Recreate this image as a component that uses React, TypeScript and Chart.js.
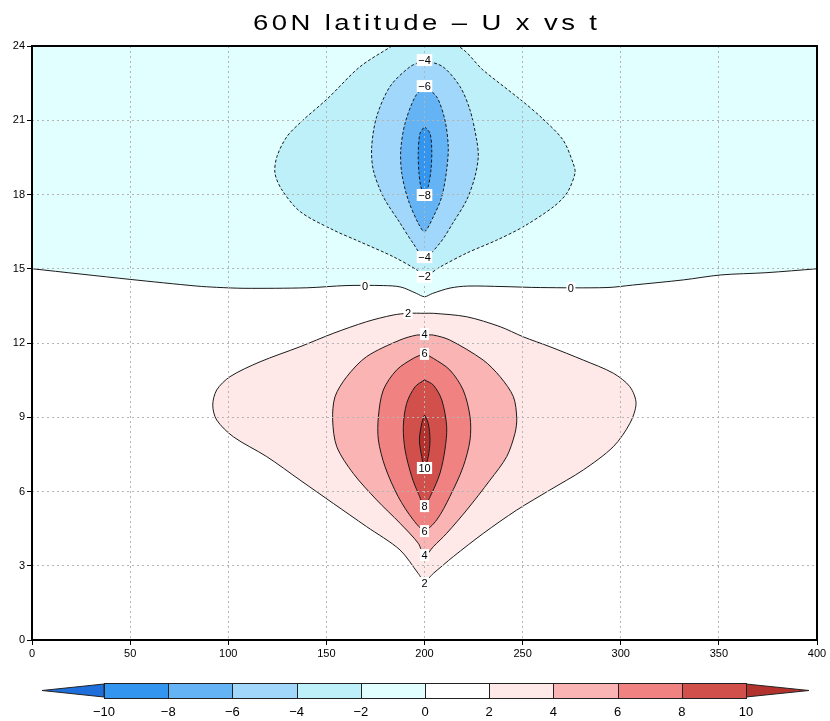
import React, { useEffect, useRef } from "react";
import { Chart, registerables } from "chart.js";

Chart.register(...registerables);

const FONT = '"Liberation Sans", "DejaVu Sans", sans-serif';

const titleText = "60N latitude – U x vs t";
const xTickValues = [0, 50, 100, 150, 200, 250, 300, 350, 400];
const yTickValues = [0, 3, 6, 9, 12, 15, 18, 21, 24];
const levels = [-10, -8, -6, -4, -2, 0, 2, 4, 6, 8, 10];
const shadeColors = [
  "#1e6edc", "#3296f0", "#64b4f5", "#a0d7fa", "#bef0fa", "#e1ffff",
  "#ffffff", "#ffe8e8", "#fab4b4", "#f08282", "#d2504b", "#b4322d",
];

// contour lines: [x, t]
const zeroLine = [
  [0, 15.0], [50, 14.57], [84, 14.3], [94, 14.25], [108, 14.21], [140, 14.23],
  [160, 14.32], [179, 14.32], [188, 14.26], [196, 14.0], [200, 13.87], [204, 14.0],
  [213, 14.22], [222, 14.3], [240, 14.28], [259, 14.24], [293, 14.24], [306, 14.34],
  [332, 14.55], [351, 14.75], [374, 14.84], [400, 15.0],
];
// closure of the region above the zero line, outside the plotted window
const zeroRegionTop = [[430, 15.2], [430, 27], [-30, 27], [-30, 15.2]];

const contourNeg2 = [
  [183.4, 24], [167.1, 23.16], [150.8, 21.89], [137.6, 20.97], [129.9, 20.34],
  [124.8, 19.53], [123.8, 18.86], [127.4, 18.18], [136.6, 17.31], [153.4, 16.57],
  [167.1, 16.09], [184.0, 15.49], [196.2, 14.95], [200, 14.7], [207.9, 15.07],
  [221.7, 15.64], [236.9, 16.16], [250.2, 16.69], [265.5, 17.49], [272.6, 18.06],
  [276.7, 18.87], [275.7, 19.27], [270.6, 20.2], [260.4, 21.05], [250.2, 21.75],
  [229.8, 23.03], [216.4, 24],
];
const contourNeg4 = [
  [200, 23.43], [209.4, 23.16], [218.1, 22.36], [223.2, 21.41], [226.6, 20.2],
  [227.4, 19.53], [225.7, 18.72], [221.5, 17.78], [214.5, 16.85], [207.9, 16.04],
  [200, 15.47], [194.1, 16.04], [187.5, 16.85], [179.0, 17.91], [173.9, 18.99],
  [173.1, 19.93], [175.6, 21.14], [182.4, 22.36], [192.6, 23.16],
];
const contourNeg6 = [
  [200, 22.38], [206.2, 21.95], [210.4, 21.01], [212.1, 19.93], [211.3, 19.0],
  [208.8, 17.91], [204.5, 17.1], [200, 16.5], [196.8, 16.84], [191.7, 17.78],
  [188.4, 18.86], [187.9, 19.8], [190.1, 20.88], [195.2, 21.95],
];
const contourNeg8 = [
  [200, 20.74], [202.8, 20.47], [203.7, 19.8], [203.3, 18.99], [201.8, 18.3],
  [200, 18.05], [198.2, 18.3], [197.2, 18.86], [196.8, 19.66], [197.7, 20.47],
];
const contourPos2 = [
  [200, 13.2], [204.5, 13.2], [221.5, 13.06], [238.5, 12.66], [250.3, 12.25],
  [263.9, 11.85], [280.9, 11.31], [296.2, 10.78], [304.7, 10.23], [307.8, 9.56],
  [304.7, 8.76], [296.2, 7.81], [280.9, 6.87], [263.9, 6.06], [247.0, 5.25],
  [230.0, 4.31], [214.7, 3.37], [204.5, 2.69], [200, 2.38], [196.8, 2.69],
  [187.5, 3.64], [170.5, 4.58], [153.5, 5.52], [136.6, 6.46], [119.6, 7.41],
  [102.6, 8.21], [94.1, 8.89], [92.1, 9.49], [94.1, 10.1], [100.9, 10.64],
  [116.2, 11.24], [136.6, 11.85], [153.5, 12.39], [170.5, 12.86], [184.0, 13.13],
  [191.7, 13.2],
];
const contourPos4 = [
  [200, 12.32], [204.5, 12.32], [212.9, 12.12], [229.9, 11.31], [238.5, 10.64],
  [245.3, 9.83], [247.0, 8.96], [246.1, 8.35], [241.9, 7.41], [233.4, 6.46],
  [221.5, 5.25], [211.3, 4.31], [204.5, 3.77], [200, 3.39], [196.8, 3.91],
  [187.5, 4.72], [175.6, 5.66], [163.7, 6.73], [155.3, 7.81], [153.2, 8.89],
  [154.4, 9.83], [160.4, 10.64], [170.5, 11.45], [187.5, 12.12], [196.0, 12.32],
];
const contourPos6 = [
  [200, 11.58], [204.5, 11.38], [212.9, 10.91], [219.7, 10.1], [223.2, 9.02],
  [223.2, 8.08], [219.7, 7.0], [212.9, 5.79], [206.2, 4.85], [200, 4.44],
  [194.3, 4.85], [186.6, 5.79], [179.9, 7.0], [176.5, 8.08], [176.5, 9.02],
  [179.0, 10.1], [185.8, 10.91], [194.3, 11.38],
];
const contourPos8 = [
  [200, 10.51], [204.5, 10.3], [208.8, 9.7], [211.3, 8.62], [210.4, 7.68],
  [207.9, 6.74], [203.7, 5.93], [200, 5.45], [196.8, 5.93], [193.5, 6.6],
  [190.1, 7.68], [189.2, 8.62], [190.9, 9.56], [195.2, 10.23],
];
const contourPos10 = [
  [200, 9.09], [201.9, 8.76], [202.8, 8.08], [201.9, 7.41], [200, 6.95],
  [198.6, 7.41], [197.4, 8.08], [198.6, 8.76],
];

// contour labels: [value, x, t]
const contourLabels = [
  [-4, 200, 23.43], [-6, 200, 22.38], [-8, 200, 17.98], [-4, 200, 15.47], [-2, 200, 14.67],
  [0, 169.7, 14.3], [0, 274.6, 14.22], [2, 191.6, 13.21], [4, 200, 12.36], [6, 200, 11.56],
  [10, 200, 6.95], [8, 200, 5.41], [6, 200, 4.4], [4, 200, 3.43], [2, 200, 2.3],
];

const contourSets = [
  { level: 0, points: [...zeroLine, ...zeroRegionTop] },
  { level: -2, points: contourNeg2 },
  { level: -4, points: contourNeg4 },
  { level: -6, points: contourNeg6 },
  { level: -8, points: contourNeg8 },
  { level: 2, points: contourPos2 },
  { level: 4, points: contourPos4 },
  { level: 6, points: contourPos6 },
  { level: 8, points: contourPos8 },
  { level: 10, points: contourPos10 },
];

const fmt = (v: number) => (v < 0 ? "−" + Math.abs(v) : String(v));

const shadeFor = (level: number) => {
  const i = levels.indexOf(level);
  return level <= 0 ? shadeColors[i] : shadeColors[i + 1];
};

const polygonFill = {
  id: "polygonFill",
  beforeDatasetDraw(chart: any, args: any) {
    const pts = args.meta.data;
    if (!pts || !pts.length) return;
    const ds = chart.data.datasets[args.index];
    const { ctx, chartArea: a } = chart;
    ctx.save();
    ctx.beginPath();
    ctx.rect(a.left, a.top, a.right - a.left, a.bottom - a.top);
    ctx.clip();
    ctx.beginPath();
    pts.forEach((p: any, i: number) => {
      if (i === 0) {
        ctx.moveTo(p.x, p.y);
      } else {
        const q = pts[i - 1];
        if (q.cp2x !== undefined && p.cp1x !== undefined) {
          ctx.bezierCurveTo(q.cp2x, q.cp2y, p.cp1x, p.cp1y, p.x, p.y);
        } else {
          ctx.lineTo(p.x, p.y);
        }
      }
    });
    ctx.closePath();
    ctx.fillStyle = ds.backgroundColor;
    ctx.fill();
    ctx.restore();
  },
};

const overlay = {
  id: "overlay",
  afterDraw(chart: any) {
    const { ctx, chartArea: a, scales } = chart;
    ctx.save();
    // frame
    ctx.strokeStyle = "#000";
    ctx.lineWidth = 2;
    ctx.strokeRect(a.left, a.top, a.right - a.left, a.bottom - a.top);

    // contour labels
    ctx.font = `11px ${FONT}`;
    ctx.textAlign = "center";
    ctx.textBaseline = "middle";
    for (const [v, x, t] of contourLabels) {
      const px = scales.x.getPixelForValue(x);
      const py = scales.y.getPixelForValue(t);
      const s = fmt(v);
      const w = ctx.measureText(s).width + 3;
      ctx.fillStyle = "#fff";
      ctx.fillRect(px - w / 2, py - 6, w, 12);
      ctx.fillStyle = "#000";
      ctx.fillText(s, px, py + 0.5);
    }

    // colour bar
    const barL = 104, barR = 746, top = 683, bot = 698, tipL = 42, tipR = 809;
    const n = levels.length - 1;
    const bw = (barR - barL) / n;
    const mid = (top + bot) / 2;
    ctx.lineWidth = 1;
    ctx.strokeStyle = "#222";
    ctx.fillStyle = shadeColors[0];
    ctx.beginPath();
    ctx.moveTo(barL, top + 1);
    ctx.lineTo(tipL, mid);
    ctx.lineTo(barL, bot - 1);
    ctx.closePath();
    ctx.fill();
    ctx.stroke();
    ctx.fillStyle = shadeColors[shadeColors.length - 1];
    ctx.beginPath();
    ctx.moveTo(barR, top + 1);
    ctx.lineTo(tipR, mid);
    ctx.lineTo(barR, bot - 1);
    ctx.closePath();
    ctx.fill();
    ctx.stroke();
    for (let i = 0; i < n; i++) {
      const x0 = Math.round(barL + i * bw) + 0.5;
      const x1 = Math.round(barL + (i + 1) * bw) + 0.5;
      ctx.fillStyle = shadeColors[i + 1];
      ctx.fillRect(x0, top + 0.5, x1 - x0, bot - top);
      ctx.strokeRect(x0, top + 0.5, x1 - x0, bot - top);
    }
    ctx.fillStyle = "#000";
    ctx.font = `13px ${FONT}`;
    ctx.textAlign = "center";
    ctx.textBaseline = "middle";
    levels.forEach((v, i) => {
      ctx.fillText(fmt(v), barL + i * bw, 712);
    });

    // title: wide, lightly spaced like the original stroke font
    ctx.font = `22px ${FONT}`;
    ctx.textAlign = "left";
    ctx.textBaseline = "middle";
    const target = 344;
    const sx = 1.25;
    const natural = ctx.measureText(titleText).width;
    const spacing = Math.max(0, (target / sx - natural) / (titleText.length - 1));
    ctx.translate(425 - target / 2, 24);
    ctx.scale(sx, 1);
    if ("letterSpacing" in ctx) {
      (ctx as any).letterSpacing = `${spacing}px`;
      ctx.fillText(titleText, 0, 0);
      (ctx as any).letterSpacing = "0px";
    } else {
      ctx.fillText(titleText, 0, 0);
    }
    ctx.restore();
  },
};

export default function App() {
  const ref = useRef<HTMLCanvasElement | null>(null);

  useEffect(() => {
    document.body.style.margin = "0";
    const canvas = ref.current;
    if (!canvas) return;
    const datasets = contourSets.map((c, i) => {
      const closed = [...c.points, c.points[0]];
      return {
        data: closed.map(([x, y]) => ({ x, y })),
        backgroundColor: shadeFor(c.level),
        borderColor: "#1a1a1a",
        borderWidth: 1,
        borderDash: c.level < 0 ? [3, 2] : [],
        pointRadius: 0,
        tension: 0.3,
        fill: false,
        order: contourSets.length - i,
      };
    });
    const tickFont = { family: FONT, size: 11 };
    const chart = new Chart(canvas, {
      type: "line",
      data: { datasets },
      options: {
        animation: false,
        responsive: false,
        events: [],
        layout: { padding: { top: 46, right: 13, left: 0, bottom: 0 } },
        plugins: { legend: { display: false }, tooltip: { enabled: false }, title: { display: false } },
        scales: {
          x: {
            type: "linear",
            min: 0,
            max: 400,
            afterBuildTicks: (s: any) => {
              s.ticks = xTickValues.map((v) => ({ value: v }));
            },
            afterFit: (s: any) => {
              s.height = 81;
            },
            ticks: { autoSkip: false, maxRotation: 0, font: tickFont, color: "#000", padding: 2 },
            grid: { color: "#b4b4b4", z: 1, tickLength: 5, tickColor: "#000", tickWidth: 1 },
            border: { display: false, dash: [2, 3] },
          },
          y: {
            type: "linear",
            min: 0,
            max: 24,
            afterBuildTicks: (s: any) => {
              s.ticks = yTickValues.map((v) => ({ value: v }));
            },
            afterFit: (s: any) => {
              s.width = 32;
            },
            ticks: { autoSkip: false, font: tickFont, color: "#000", padding: 2 },
            grid: { color: "#b4b4b4", z: 1, tickLength: 5, tickColor: "#000", tickWidth: 1 },
            border: { display: false, dash: [2, 3] },
          },
        },
      },
      plugins: [polygonFill, overlay],
    } as any);
    return () => chart.destroy();
  }, []);

  return <canvas ref={ref} width={830} height={721} style={{ display: "block" }} />;
}
